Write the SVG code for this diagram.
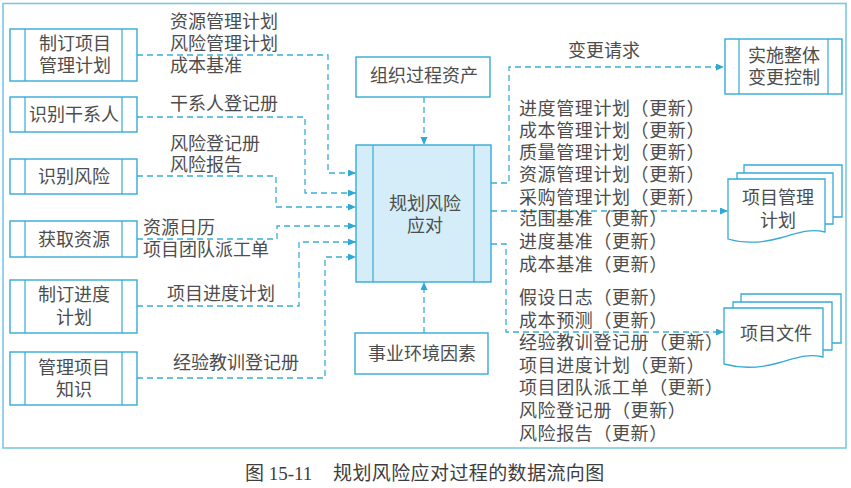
<svg xmlns="http://www.w3.org/2000/svg" width="851" height="488" viewBox="0 0 851 488">
  <defs>
    <marker id="arrow" markerUnits="userSpaceOnUse" markerWidth="9" markerHeight="8" refX="8" refY="3.5" orient="auto">
      <path d="M0,0 L8,3.5 L0,7 Z" fill="#2fa8d6"/>
    </marker>
    <style>
      .frame { fill: none; stroke: #7cc8e2; stroke-width: 1.6; }
      .box { fill: #ffffff; stroke: #35aad6; stroke-width: 1.4; }
      .core { fill: #d4edf8; stroke: #35aad6; stroke-width: 1.4; }
      .sep { stroke: #35aad6; stroke-width: 1.2; }
      .doc { fill: #ffffff; stroke: #35aad6; stroke-width: 1.3; }
      .flow { fill: none; stroke: #3aaed8; stroke-width: 1.3; stroke-dasharray: 6 4; }
      .arr { marker-end: url(#arrow); }
      text { font-family: "Noto Sans CJK SC", "Noto Sans", sans-serif; font-size: 18px; fill: #4d4d4d; }
      .c { text-anchor: middle; }
      .out { letter-spacing: 0.6px; }
      .cap { font-family: "Liberation Serif", "Noto Sans CJK SC", serif; font-size: 19px; fill: #3d3d3d; }
    </style>
  </defs>

  <!-- outer frame -->
  <rect class="frame" x="3" y="3.5" width="843" height="444.5"/>

  <!-- connectors -->
  <g id="connectors">
    <path class="flow arr" d="M137,55 H328 V173 H356"/>
    <path class="flow arr" d="M137,117 H305 V193 H356"/>
    <path class="flow arr" d="M137,176 H276 V207 H356"/>
    <path class="flow arr" d="M137,239 H277 V226 H356"/>
    <path class="flow arr" d="M137,306 H299 V242 H356"/>
    <path class="flow arr" d="M137,378 H325 V257 H356"/>
    <path class="flow arr" d="M424,97 V145"/>
    <path class="flow arr" d="M424,333 V282"/>
    <path class="flow arr" d="M491,183 H509 V67 H724"/>
    <path class="flow arr" d="M491,211 H728"/>
    <path class="flow arr" d="M491,244 H506 V332 H724"/>
  </g>

  <!-- connector labels -->
  <g id="labels">
    <text x="170" y="28">资源管理计划</text>
    <text x="170" y="50">风险管理计划</text>
    <text x="170" y="72">成本基准</text>
    <text x="170" y="110">干系人登记册</text>
    <text x="170" y="150">风险登记册</text>
    <text x="170" y="171">风险报告</text>
    <text x="143" y="234">资源日历</text>
    <text x="143" y="256">项目团队派工单</text>
    <text x="167" y="300">项目进度计划</text>
    <text x="173" y="369">经验教训登记册</text>
    <text x="568" y="57">变更请求</text>
  </g>
  <g id="output-list" class="out">
    <text class="out" x="519" y="115">进度管理计划（更新）</text>
    <text class="out" x="519" y="137">成本管理计划（更新）</text>
    <text class="out" x="519" y="159">质量管理计划（更新）</text>
    <text class="out" x="519" y="181">资源管理计划（更新）</text>
    <text class="out" x="519" y="204">采购管理计划（更新）</text>
    <text class="out" x="519" y="225">范围基准（更新）</text>
    <text class="out" x="519" y="248">进度基准（更新）</text>
    <text class="out" x="519" y="271">成本基准（更新）</text>
    <text class="out" x="519" y="304">假设日志（更新）</text>
    <text class="out" x="519" y="327">成本预测（更新）</text>
    <text class="out" x="519" y="349">经验教训登记册（更新）</text>
    <text class="out" x="519" y="372">项目进度计划（更新）</text>
    <text class="out" x="519" y="394">项目团队派工单（更新）</text>
    <text class="out" x="519" y="417">风险登记册（更新）</text>
    <text class="out" x="519" y="440">风险报告（更新）</text>
  </g>

  <!-- input processes -->
  <g id="develop-pm-plan">
    <rect class="box" x="10" y="29" width="127" height="52"/>
    <line class="sep" x1="25" y1="29" x2="25" y2="81"/>
    <line class="sep" x1="122" y1="29" x2="122" y2="81"/>
    <text class="c" x="75" y="50">制订项目</text>
    <text class="c" x="75" y="72">管理计划</text>
  </g>
  <g id="identify-stakeholders">
    <rect class="box" x="10" y="97" width="127" height="35"/>
    <line class="sep" x1="25" y1="97" x2="25" y2="132"/>
    <line class="sep" x1="122" y1="97" x2="122" y2="132"/>
    <text class="c" x="74" y="121">识别干系人</text>
  </g>
  <g id="identify-risks">
    <rect class="box" x="10" y="159" width="127" height="35"/>
    <line class="sep" x1="25" y1="159" x2="25" y2="194"/>
    <line class="sep" x1="122" y1="159" x2="122" y2="194"/>
    <text class="c" x="74" y="183">识别风险</text>
  </g>
  <g id="acquire-resources">
    <rect class="box" x="10" y="221" width="127" height="36"/>
    <line class="sep" x1="25" y1="221" x2="25" y2="257"/>
    <line class="sep" x1="122" y1="221" x2="122" y2="257"/>
    <text class="c" x="74" y="246">获取资源</text>
  </g>
  <g id="develop-schedule">
    <rect class="box" x="10" y="280" width="127" height="53"/>
    <line class="sep" x1="25" y1="280" x2="25" y2="333"/>
    <line class="sep" x1="122" y1="280" x2="122" y2="333"/>
    <text class="c" x="74" y="301">制订进度</text>
    <text class="c" x="74" y="324">计划</text>
  </g>
  <g id="manage-knowledge">
    <rect class="box" x="10" y="352" width="127" height="53"/>
    <line class="sep" x1="25" y1="352" x2="25" y2="405"/>
    <line class="sep" x1="122" y1="352" x2="122" y2="405"/>
    <text class="c" x="74" y="374">管理项目</text>
    <text class="c" x="74" y="396">知识</text>
  </g>

  <!-- central process -->
  <g id="plan-risk-responses">
    <rect class="core" x="356" y="145" width="135" height="137"/>
    <line class="sep" x1="373" y1="145" x2="373" y2="282"/>
    <line class="sep" x1="474" y1="145" x2="474" y2="282"/>
    <text class="c" x="425" y="210">规划风险</text>
    <text class="c" x="425" y="232">应对</text>
  </g>

  <g id="opa">
    <rect class="box" x="356" y="57" width="134" height="40"/>
    <text class="c" x="424" y="82">组织过程资产</text>
  </g>
  <g id="eef">
    <rect class="box" x="355" y="333" width="133" height="41"/>
    <text class="c" x="422" y="360">事业环境因素</text>
  </g>

  <!-- outputs -->
  <g id="integrated-change-control">
    <rect class="box" x="725" y="39" width="117" height="55"/>
    <line class="sep" x1="739" y1="39" x2="739" y2="94"/>
    <line class="sep" x1="828" y1="39" x2="828" y2="94"/>
    <text class="c" x="784" y="62">实施整体</text>
    <text class="c" x="784" y="84">变更控制</text>
  </g>

  <g id="pm-plan">
    <path class="doc" d="M744,165 H842 V217 H744 Z"/>
    <path class="doc" d="M737,173 H833 V224 H737 Z"/>
    <path class="doc" d="M728,179 H825 V232 C808,228 796,234 780,238 C762,243 745,244 728,239 Z"/>
    <text class="c" x="778" y="204">项目管理</text>
    <text class="c" x="778" y="227">计划</text>
  </g>

  <g id="project-docs">
    <path class="doc" d="M741,294 H841 V343 H741 Z"/>
    <path class="doc" d="M733,302 H832 V350 H733 Z"/>
    <path class="doc" d="M724,308 H823 V357 C806,353 794,359 778,363 C760,368 742,369 724,364 Z"/>
    <text class="c" x="776" y="340">项目文件</text>
  </g>

  <!-- caption -->
  <text class="cap" x="245" y="480">图 15-11</text>
  <text class="cap" x="333" y="480" style="font-family: 'Noto Sans CJK SC', sans-serif; letter-spacing: 0.4px;">规划风险应对过程的数据流向图</text>
</svg>
